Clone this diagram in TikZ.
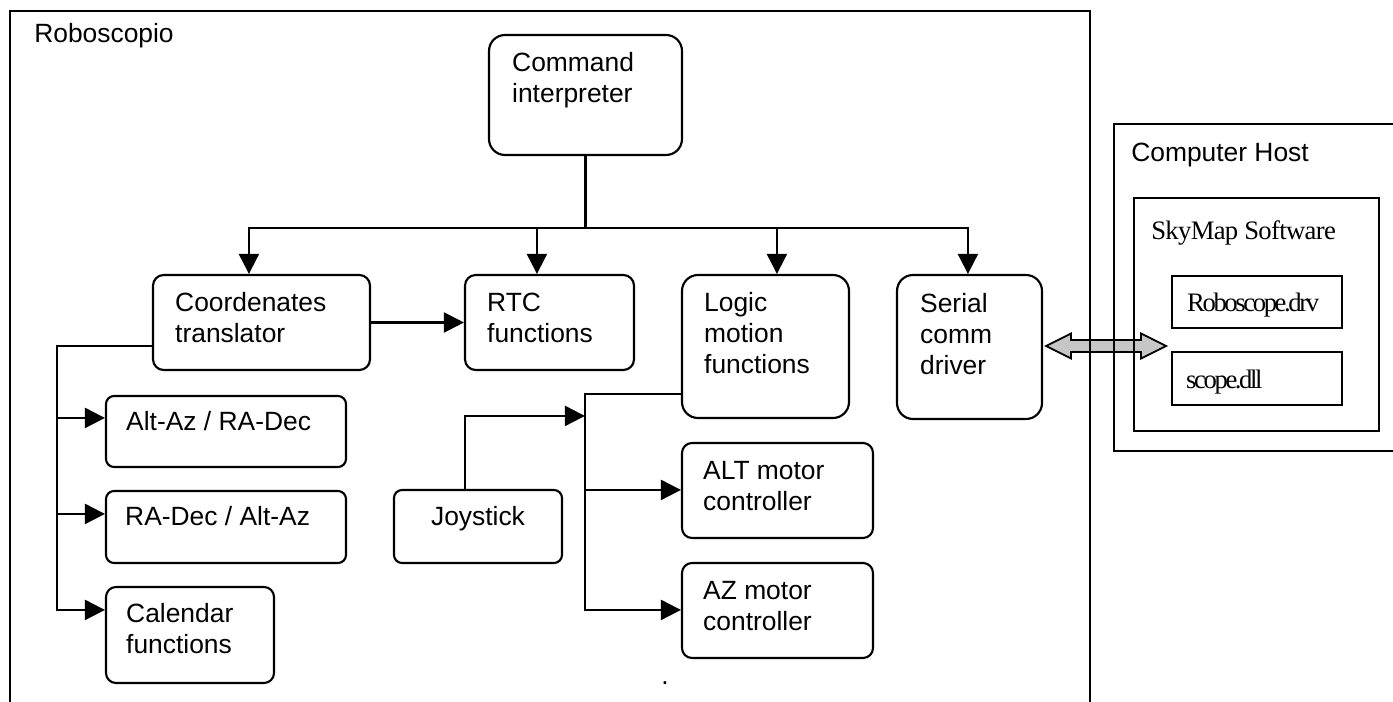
\documentclass[tikz,border=0pt]{standalone}
\usepackage{fontspec}
\setmainfont{Liberation Sans}
\newfontfamily\tnr[LetterSpace=-2.5]{Liberation Serif}
\newfontfamily\tnrtight[LetterSpace=-9]{Liberation Serif}
\usetikzlibrary{arrows.meta,calc,fit}
\newcommand\lines[1]{\begin{tabular}[t]{@{}l@{}}#1\end{tabular}}
\begin{document}
\begin{tikzpicture}[
  x=0.75pt, y=-0.75pt,
  blk/.style={draw, line width=1.6pt, inner sep=0pt},
  lbl/.style={anchor=base west, inner sep=0pt, font=\fontsize{19.8pt}{23pt}\selectfont},
  conn/.style={line width=1.6pt},
  arr/.style={conn, -{Triangle[length=15pt,width=15pt]}},
  dblarr/.style={draw, line width=1.3pt, fill=gray!45, line join=miter},
]
\useasboundingbox (0,0) rectangle (1393,702);
\clip (0,0) rectangle (1393,702);
\fill[white] (0,0) rectangle (1393,702);

% ---- Roboscopio blocks ----
\node[blk, rounded corners=12pt, fit={(489,35) (682,155)}]  (cmd)    {};
\node[blk, rounded corners=8pt,  fit={(153,275) (370,370)}] (coord)  {};
\node[blk, rounded corners=8pt,  fit={(465,275) (634,370)}] (rtc)    {};
\node[blk, rounded corners=12pt, fit={(682,275) (849,418)}] (logic)  {};
\node[blk, rounded corners=12pt, fit={(897,275) (1042,419)}] (serial) {};
\node[blk, rounded corners=6pt,  fit={(106,396) (346,467)}] (altaz)  {};
\node[blk, rounded corners=6pt,  fit={(106,491) (346,563)}] (radec)  {};
\node[blk, rounded corners=7.5pt,fit={(106,587) (274,683)}] (cal)    {};
\node[blk, rounded corners=6pt,  fit={(394,490) (562,563)}] (joy)    {};
\node[blk, rounded corners=7.5pt,fit={(682,443) (873,538)}] (alt)    {};
\node[blk, rounded corners=7.5pt,fit={(682,563) (873,658)}] (az)     {};

% ---- host software blocks ----
\node[blk, fit={(1172,276) (1342,328)}] (drv) {};
\node[blk, fit={(1172,352) (1342,405)}] (dll) {};

% ---- block labels ----
\node[lbl] (cmdt)    at ($(cmd.north west)+(24,38)$)    {\lines{Command\\interpreter}};
\node[lbl] (coordt)  at ($(coord.north west)+(23,38)$)  {\lines{Coordenates\\translator}};
\node[lbl] (rtct)    at ($(rtc.north west)+(23,38)$)    {\lines{RTC\\functions}};
\node[lbl] (logict)  at ($(logic.north west)+(23,38)$)  {\lines{Logic\\motion\\functions}};
\node[lbl] (serialt) at ($(serial.north west)+(24,39)$) {\lines{Serial\\comm\\driver}};
\node[lbl] (altazt)  at ($(altaz.north west)+(21,36)$)  {Alt-Az / RA-Dec};
\node[lbl] (radect)  at ($(radec.north west)+(20,36)$)  {RA-Dec / Alt-Az};
\node[lbl] (calt)    at ($(cal.north west)+(21,37)$)    {\lines{Calendar\\functions}};
\node[lbl, anchor=base] (joyt) at ($(joy.north)+(0,37)$) {Joystick};
\node[lbl] (altt)    at ($(alt.north west)+(22,38)$)    {\lines{ALT motor\\controller}};
\node[lbl] (azt)     at ($(az.north west)+(22,38)$)     {\lines{AZ motor\\controller}};
\node[lbl] (mark)    at (661,684) {.};

\node[lbl, font=\fontsize{20pt}{22pt}\tnr] (skyt) at (1151,240) {SkyMap Software};
\node[lbl, font=\fontsize{20pt}{22pt}\tnrtight] (drvt) at ($(drv.north west)+(16,37)$) {Roboscope.drv};
\node[lbl, font=\fontsize{20pt}{22pt}\tnrtight] (dllt) at ($(dll.north west)+(15,38)$) {scope.dll};
\node[lbl] (hostt) at (1131,162) {Computer Host};
\node[lbl] (robot) at (34,43) {Roboscopio};

% ---- command distribution bus ----
\coordinate (bus) at ($(cmd.south)+(0,72)$);
\draw[conn] (cmd.south) -- (bus);
\draw[arr] (bus) -| ($(coord.north west)+(97,0)$);
\draw[arr] (bus) -| ($(rtc.north west)+(73,0)$);
\draw[arr] (bus) -| ($(logic.north west)+(96,0)$);
\draw[arr] (bus) -| ($(serial.north west)+(72,0)$);

% ---- coordinates translator ----
\draw[arr] (coord.east) -- (rtc.west);
\coordinate (ctap) at ($(coord.north west)+(0,72)$);
\coordinate (ctrunk) at ($(ctap)+(-95,0)$);
\draw[arr] (ctap) -- (ctrunk) |- ($(cal.north west)+(0,24)$);
\draw[arr] (ctrunk |- {$(altaz.north west)+(0,23)$}) -- ($(altaz.north west)+(0,23)$);
\draw[arr] (ctrunk |- {$(radec.north west)+(0,24)$}) -- ($(radec.north west)+(0,24)$);

% ---- logic motion functions ----
\coordinate (ltap) at ($(logic.north west)+(0,120)$);
\coordinate (ltrunk) at ($(ltap)+(-96,0)$);
\draw[arr] (ltap) -- (ltrunk) |- ($(az.north west)+(0,48)$);
\draw[arr] (ltrunk |- {$(alt.north west)+(0,48)$}) -- ($(alt.north west)+(0,48)$);
\coordinate (jtap) at ($(joy.north west)+(72,0)$);
\draw[arr] (jtap) |- ($(ltrunk)+(0,22)$);

% ---- serial link to the host ----
\coordinate (pa) at ($(serial.east)+(3,-1)$);
\draw[dblarr] (pa) -- ++(25,-12.5) -- ++(0,6.5) -- ++(70,0) -- ++(0,-6.5)
  -- ++(25,12.5) -- ++(-25,12.5) -- ++(0,-6.5) -- ++(-70,0) -- ++(0,6.5) -- cycle;

% ---- enclosing frames ----
\node[blk, fit={(10,11) (1090,720)}]    (robo) {};
\node[blk, fit={(1114,124) (1410,451)}] (host) {};
\node[blk, fit={(1134,198) (1379,431)}] (sky)  {};
\end{tikzpicture}
\end{document}
